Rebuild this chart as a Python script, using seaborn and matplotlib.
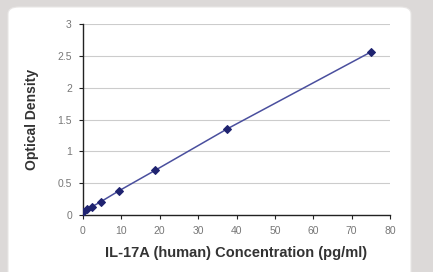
import numpy as np
import pandas as pd
import matplotlib
matplotlib.use("Agg")
import matplotlib.pyplot as plt
import seaborn as sns
from matplotlib.patches import FancyBboxPatch

concentration = [0, 1.17, 2.34, 4.69, 9.375, 18.75, 37.5, 75]
optical_density = [0.05, 0.09, 0.13, 0.21, 0.38, 0.70, 1.35, 2.56]
x_ticks = [0, 10, 20, 30, 40, 50, 60, 70, 80]
y_ticks = [0, 0.5, 1, 1.5, 2, 2.5, 3]
y_tick_labels = ["0", "0.5", "1", "1.5", "2", "2.5", "3"]

df = pd.DataFrame({"conc": concentration, "od": optical_density})

sns.set_style("white")
plt.rcParams["font.family"] = ["Liberation Sans", "DejaVu Sans"]

fig = plt.figure(figsize=(4.33, 2.72), dpi=100)
fig.patch.set_facecolor("#dcd9d8")

# panneau blanc arrondi
panel = FancyBboxPatch((8 / 433, -0.05), 403 / 433, 1 - 7 / 272 + 0.05,
                       boxstyle="round,pad=0,rounding_size=0.025",
                       transform=fig.transFigure, facecolor="white",
                       edgecolor="#e8e6e5", linewidth=0.8, zorder=-1)
fig.patches.append(panel)

ax = fig.add_axes([83 / 433, 1 - 215 / 272, 307 / 433, 191 / 272])
ax.set_zorder(1)
ax.set_facecolor("none")

sns.lineplot(data=df, x="conc", y="od", ax=ax, color="#4a4f9e", linewidth=1.1,
             marker="D", markersize=3.8, markerfacecolor="#1f2370",
             markeredgecolor="#1f2370", zorder=3)

ax.set_xlim(0, 80)
ax.set_ylim(0, 3)
ax.set_xticks(x_ticks)
ax.set_yticks(y_ticks)
ax.set_yticklabels(y_tick_labels)
ax.yaxis.grid(True, color="#cccccc", linewidth=0.8)
ax.xaxis.grid(False)

for s in ["top", "right"]:
    ax.spines[s].set_visible(False)
for s in ["left", "bottom"]:
    ax.spines[s].set_color("#222222")
    ax.spines[s].set_linewidth(1.0)

ax.tick_params(axis="both", direction="out", length=3, width=0.8, color="#222222",
               labelsize=7.5, labelcolor="#777777", pad=5, bottom=True, left=True)

ax.set_xlabel("IL-17A (human) Concentration (pg/ml)", fontsize=10.5,
              fontweight="bold", color="#333333", labelpad=7)
ax.set_ylabel("Optical Density", fontsize=10, fontweight="bold",
              color="#333333", labelpad=13)

fig.savefig("out.png", dpi=100)
